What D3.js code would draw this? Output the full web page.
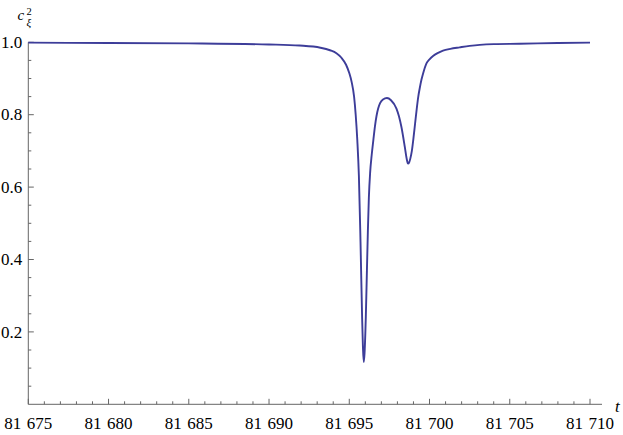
<!DOCTYPE html>
<html lang="en">
<head>
    <meta charset="UTF-8">
    <title>c_xi^2 vs t</title>
    <script src="https://cdnjs.cloudflare.com/ajax/libs/d3/7.8.5/d3.min.js"></script>
    <style>
        body {
            margin: 0;
            padding: 0;
            background-color: white;
            font-family: "Liberation Serif", serif;
        }
        svg {
            display: block;
        }
        .axis line {
            stroke: #666;
        }
    </style>
</head>
<body>
    <div id="chart"></div>

    <script>
        // Data
        const tValues = [
            81675, 81680, 81685, 81690, 81691.9, 81693.2, 81693.8, 81694.2, 81694.5,
            81694.8, 81695.0, 81695.15, 81695.3, 81695.4, 81695.5, 81695.6, 81695.7,
            81695.8, 81695.85, 81695.9, 81695.95, 81696.03, 81696.1, 81696.16, 81696.22,
            81696.3, 81696.4, 81696.5, 81696.6, 81696.7, 81696.8, 81696.92, 81697.1,
            81697.35, 81697.6, 81697.94, 81698.1, 81698.25, 81698.46, 81698.57, 81698.66,
            81698.73, 81698.8, 81698.9, 81699.0, 81699.1, 81699.2, 81699.3, 81699.39,
            81699.5, 81699.6, 81699.81, 81700.0, 81700.22, 81700.5, 81700.84, 81701.3,
            81701.88, 81702.5, 81703.13, 81704, 81705.6, 81708, 81710
        ];
        const cValues = [
            0.999, 0.998, 0.997, 0.994, 0.991, 0.985, 0.978, 0.970, 0.958,
            0.938, 0.915, 0.890, 0.850, 0.800, 0.730, 0.630, 0.450,
            0.240, 0.160, 0.117, 0.140, 0.240, 0.370, 0.480, 0.570,
            0.640, 0.690, 0.730, 0.768, 0.797, 0.817, 0.832, 0.842,
            0.846, 0.840, 0.817, 0.795, 0.766, 0.711, 0.680, 0.665,
            0.668, 0.678, 0.700, 0.735, 0.775, 0.815, 0.850, 0.873,
            0.897, 0.914, 0.942, 0.953, 0.962, 0.970, 0.977, 0.982,
            0.986, 0.990, 0.993, 0.995, 0.996, 0.998, 0.999
        ];
        const xTickValues = [81675, 81680, 81685, 81690, 81695, 81700, 81705, 81710];
        const yTickValues = [0.2, 0.4, 0.6, 0.8, 1.0];

        const data = tValues.map((t, i) => ({ t: t, c: cValues[i] }));

        const width = 623;
        const height = 435;
        const serif = "Liberation Serif";

        const x = d3.scaleLinear()
            .domain([81675, 81710])
            .range([28.3, 590]);

        const y = d3.scaleLinear()
            .domain([0, 1])
            .range([404.3, 42.3]);

        const svg = d3.select("#chart")
            .append("svg")
            .attr("width", width)
            .attr("height", height)
            .attr("font-family", serif);

        // minor ticks
        const xMinor = d3.range(81676, 81711, 1).filter(v => v % 5 !== 0);
        const yMinor = d3.range(1, 20).filter(i => i % 4 !== 0).map(i => i * 0.05);

        // x axis
        const xAxisG = svg.append("g")
            .attr("class", "axis")
            .attr("transform", `translate(0, ${y(0)})`);

        xAxisG.append("line")
            .attr("x1", x(81675))
            .attr("x2", 602)
            .attr("y1", 0)
            .attr("y2", 0);

        xAxisG.selectAll(".minor")
            .data(xMinor)
            .join("line")
            .attr("class", "minor")
            .attr("x1", d => x(d))
            .attr("x2", d => x(d))
            .attr("y1", 0)
            .attr("y2", -3);

        xAxisG.selectAll(".major")
            .data(xTickValues)
            .join("line")
            .attr("class", "major")
            .attr("x1", d => x(d))
            .attr("x2", d => x(d))
            .attr("y1", 0)
            .attr("y2", -5.5);

        xAxisG.selectAll("text")
            .data(xTickValues)
            .join("text")
            .attr("x", d => x(d))
            .attr("y", 25)
            .attr("text-anchor", "middle")
            .attr("font-family", serif)
            .attr("font-size", 17)
            .text(d => d3.format(",")(d).replace(",", "\u2004"));

        // y axis
        const yAxisG = svg.append("g")
            .attr("class", "axis")
            .attr("transform", `translate(${x(81675)}, 0)`);

        yAxisG.append("line")
            .attr("x1", 0)
            .attr("x2", 0)
            .attr("y1", y(1))
            .attr("y2", y(0));

        yAxisG.selectAll(".minor")
            .data(yMinor)
            .join("line")
            .attr("class", "minor")
            .attr("x1", 0)
            .attr("x2", 3)
            .attr("y1", d => y(d))
            .attr("y2", d => y(d));

        yAxisG.selectAll(".major")
            .data(yTickValues)
            .join("line")
            .attr("class", "major")
            .attr("x1", 0)
            .attr("x2", 5.5)
            .attr("y1", d => y(d))
            .attr("y2", d => y(d));

        yAxisG.selectAll("text")
            .data(yTickValues)
            .join("text")
            .attr("x", -6)
            .attr("y", d => y(d))
            .attr("dy", "0.33em")
            .attr("text-anchor", "end")
            .attr("font-family", serif)
            .attr("font-size", 17)
            .text(d => d3.format(".1f")(d));

        // axis labels
        svg.append("text")
            .attr("x", 615)
            .attr("y", 411.5)
            .attr("font-family", serif)
            .attr("font-style", "italic")
            .attr("font-size", 17)
            .text("t");

        const yl = svg.append("g").attr("font-family", serif);
        yl.append("text")
            .attr("x", 17.5)
            .attr("y", 20)
            .attr("font-style", "italic")
            .attr("font-size", 15)
            .text("c");
        yl.append("text")
            .attr("x", 26.5)
            .attr("y", 15)
            .attr("font-size", 10.5)
            .text("2");
        yl.append("text")
            .attr("x", 26.5)
            .attr("y", 26)
            .attr("font-style", "italic")
            .attr("font-size", 11)
            .text("ξ");

        // curve
        const line = d3.line()
            .x(d => x(d.t))
            .y(d => y(d.c))
            .curve(d3.curveMonotoneX);

        svg.append("path")
            .datum(data)
            .attr("fill", "none")
            .attr("stroke", "#3d3d99")
            .attr("stroke-width", 1.9)
            .attr("d", line);

        console.log("chart drawn");
    </script>
</body>
</html>
